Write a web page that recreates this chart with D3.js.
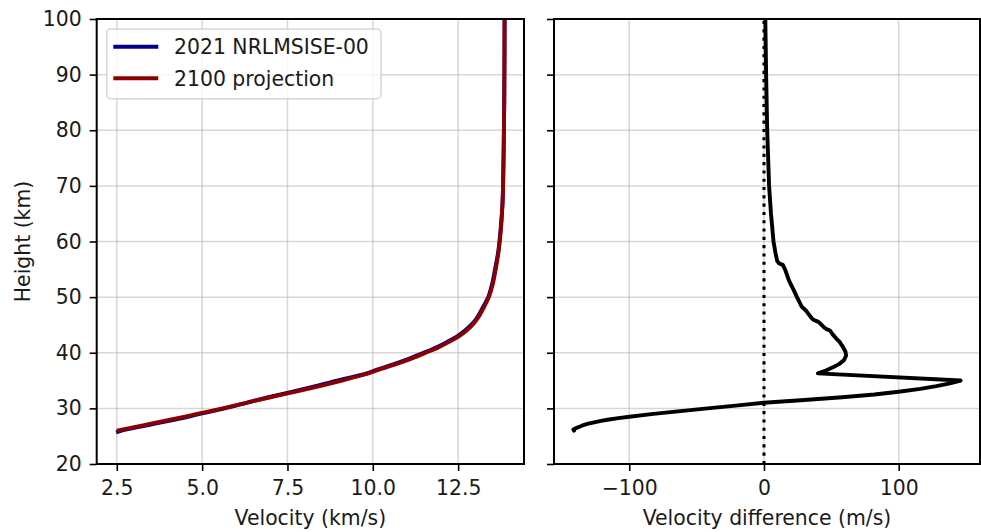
<!DOCTYPE html>
<html>
<head>
<meta charset="utf-8">
<script src="https://cdn.jsdelivr.net/npm/d3@7"></script>
<style>
  body { margin: 0; background: #fff; }
  svg { font-family: "DejaVu Sans", sans-serif; }
</style>
</head>
<body>
<div id="app"></div>
<script>
// data
// left panel: velocity (km/s) against height (km)
var h2021 = [25.7, 26, 27, 28, 29, 30, 31, 32, 33, 34, 35, 36, 37, 38, 39, 40, 41, 42, 43, 44, 45, 46, 48, 50, 52, 55, 58, 62, 67, 75, 85, 100];
var v2021 = [2.48, 2.64, 3.43, 4.22, 4.94, 5.66, 6.30, 6.94, 7.65, 8.32, 8.95, 9.66, 10.15, 10.64, 11.09, 11.49, 11.87, 12.19, 12.48, 12.70, 12.88, 13.02, 13.21, 13.38, 13.48, 13.58, 13.67, 13.74, 13.80, 13.83, 13.85, 13.86];
var h2100 = [26, 27, 28, 29, 30, 31, 32, 33, 34, 35, 36, 37, 38, 39, 40, 41, 42, 43, 44, 45, 46, 48, 50, 52, 55, 58, 62, 67, 75, 85, 100];
var v2100 = [2.50, 3.30, 4.10, 4.85, 5.60, 6.30, 7.00, 7.75, 8.45, 9.10, 9.70, 10.20, 10.70, 11.15, 11.55, 11.93, 12.25, 12.53, 12.75, 12.92, 13.05, 13.24, 13.40, 13.50, 13.60, 13.68, 13.75, 13.80, 13.83, 13.85, 13.86];

// right panel: velocity difference (m/s) against height (km)
var hDiff = [26.0, 26.2, 26.5, 26.75, 27.0, 27.25, 27.5, 27.75, 28.0, 28.25, 28.5, 29.0, 29.5, 30.0, 30.5, 31.0,
  31.5, 32.0, 32.5, 33.0, 33.5, 34.0, 34.5, 35.0,
  36.3, 36.8, 37.5, 38.0, 38.7, 39.5, 40.2, 41.1, 42.0, 42.6, 43.3, 44.0, 44.3, 44.6, 45.2, 45.6, 45.9, 46.2, 47.0, 47.5,
  48.3, 50.0, 51.3, 53.0, 54.9, 55.8, 56.1, 56.5, 58, 60, 65, 70, 80, 90, 100];
var dv = [-141, -141.5, -139, -136.5, -134, -130.5, -126, -121, -115, -108, -100, -82, -62, -42, -21, 0,
  30, 58, 82, 100, 116, 128, 138, 146,
  40, 46, 52, 56, 59.5, 61, 60.5, 58.5, 56, 53.5, 51, 49, 46, 44.5, 42, 40, 37, 35.5, 33, 31.5,
  28, 24.5, 22, 18.5, 15.8, 14, 11, 9.8, 8.5, 7.1, 5.2, 3.8, 2.4, 1.6, 1.0];

var yTicks = [20, 30, 40, 50, 60, 70, 80, 90, 100];
var velTicks = [2.5, 5.0, 7.5, 10.0, 12.5];
var diffTicks = [-100, 0, 100];
var seriesNames = ["2021 NRLMSISE-00", "2100 projection"];
var seriesColors = ["#00008b", "#8b0000"];

var W = 981, H = 532;
var fontSize = 20.4;
var plotTop = 19, plotBottom = 464;

var svg = d3.select("#app").append("svg")
  .attr("width", W).attr("height", H);

function padded(ext) {
  var m = (ext[1] - ext[0]) * 0.05;
  return [ext[0] - m, ext[1] + m];
}

var y = d3.scaleLinear().domain([20, 100]).range([plotBottom, plotTop]);

function makePanel(id, x0, x1, x, xTicks, fmt) {
  var g = svg.append("g").attr("class", id);

  g.append("clipPath").attr("id", "clip-" + id)
    .append("rect").attr("x", x0).attr("y", plotTop).attr("width", x1 - x0).attr("height", plotBottom - plotTop);

  // grid
  g.selectAll(".vgrid").data(xTicks).join("line")
    .attr("x1", d => x(d)).attr("x2", d => x(d))
    .attr("y1", plotTop).attr("y2", plotBottom)
    .attr("stroke", "#b0b0b0").attr("stroke-opacity", 0.5).attr("stroke-width", 1.5);
  g.selectAll(".hgrid").data(yTicks).join("line")
    .attr("x1", x0).attr("x2", x1)
    .attr("y1", d => y(d)).attr("y2", d => y(d))
    .attr("stroke", "#b0b0b0").attr("stroke-opacity", 0.5).attr("stroke-width", 1.5);

  var plot = g.append("g").attr("clip-path", "url(#clip-" + id + ")");

  // x axis
  var ax = g.append("g")
    .attr("transform", "translate(0," + plotBottom + ")")
    .call(d3.axisBottom(x).tickValues(xTicks).tickFormat(fmt).tickSize(7).tickPadding(7).tickSizeOuter(0));
  ax.select(".domain").remove();
  ax.selectAll(".tick line").attr("stroke", "#000").attr("stroke-width", 1.6);
  ax.selectAll(".tick text").attr("font-size", fontSize).attr("fill", "#1a1a1a")
    .attr("font-family", "DejaVu Sans").attr("dy", "0.71em").attr("y", 17);

  // y axis
  var ay = g.append("g")
    .attr("transform", "translate(" + x0 + ",0)")
    .call(d3.axisLeft(y).tickValues(yTicks).tickSize(7).tickPadding(8).tickSizeOuter(0));
  ay.select(".domain").remove();
  ay.selectAll(".tick line").attr("stroke", "#000").attr("stroke-width", 1.6);
  ay.selectAll(".tick text").attr("font-size", fontSize).attr("fill", "#1a1a1a")
    .attr("font-family", "DejaVu Sans");

  return { g: g, plot: plot, ay: ay, x0: x0, x1: x1 };
}

// left panel
var xVel = d3.scaleLinear()
  .domain(padded(d3.extent(v2021.concat(v2100))))
  .range([96.7, 524]);
var left = makePanel("left", 96.7, 524, xVel, velTicks, d3.format(".1f"));

var profile = d3.line().x(d => xVel(d[0])).y(d => y(d[1])).curve(d3.curveMonotoneY);
var s2021 = v2021.map((v, i) => [v, h2021[i]]);
var s2100 = v2100.map((v, i) => [v, h2100[i]]);
[s2021, s2100].forEach(function(s, i) {
  left.plot.append("path")
    .datum(s)
    .attr("d", profile)
    .attr("fill", "none")
    .attr("stroke", seriesColors[i])
    .attr("stroke-width", 3.9)
    .attr("stroke-linejoin", "round");
});

// right panel
var xDiff = d3.scaleLinear()
  .domain(padded(d3.extent(dv)))
  .range([554, 980]);
var right = makePanel("right", 554, 980, xDiff, diffTicks, d3.format("d"));
right.ay.selectAll(".tick text").remove();

right.plot.append("line")
  .attr("x1", xDiff(0)).attr("x2", xDiff(0))
  .attr("y1", y(20)).attr("y2", y(100))
  .attr("stroke", "#000").attr("stroke-width", 3.1)
  .attr("stroke-dasharray", "3.1,5.2");

right.plot.append("path")
  .datum(dv.map((d, i) => [d, hDiff[i]]))
  .attr("d", d3.line().x(d => xDiff(d[0])).y(d => y(d[1])))
  .attr("fill", "none")
  .attr("stroke", "#000")
  .attr("stroke-width", 3.9)
  .attr("stroke-linejoin", "round")
  .attr("stroke-linecap", "round");

// frames
[left, right].forEach(function(p) {
  p.g.append("rect")
    .attr("x", p.x0).attr("y", plotTop)
    .attr("width", p.x1 - p.x0).attr("height", plotBottom - plotTop)
    .attr("fill", "none").attr("stroke", "#000").attr("stroke-width", 2);
});

// legend
var legend = svg.append("g");
legend.append("rect")
  .attr("x", 106.7).attr("y", 29).attr("width", 274.3).attr("height", 69.7)
  .attr("rx", 4).attr("fill", "#fff").attr("fill-opacity", 0.8)
  .attr("stroke", "#cccccc").attr("stroke-opacity", 0.8).attr("stroke-width", 1.5);
seriesNames.forEach(function(name, i) {
  var ly = 46.7 + i * 31.6;
  legend.append("line")
    .attr("x1", 113.3).attr("x2", 158.3).attr("y1", ly).attr("y2", ly)
    .attr("stroke", seriesColors[i]).attr("stroke-width", 3.9);
  legend.append("text")
    .attr("x", 174).attr("y", ly).attr("dy", "0.36em")
    .attr("font-size", fontSize).attr("fill", "#1a1a1a")
    .text(name);
});

// axis labels
svg.append("text")
  .attr("x", (96.7 + 524) / 2).attr("y", 525)
  .attr("text-anchor", "middle").attr("font-size", fontSize).attr("fill", "#1a1a1a")
  .text("Velocity (km/s)");
svg.append("text")
  .attr("x", (554 + 980) / 2).attr("y", 525)
  .attr("text-anchor", "middle").attr("font-size", fontSize).attr("fill", "#1a1a1a")
  .text("Velocity difference (m/s)");
svg.append("text")
  .attr("transform", "translate(30," + (plotTop + plotBottom) / 2 + ") rotate(-90)")
  .attr("text-anchor", "middle").attr("font-size", fontSize).attr("fill", "#1a1a1a")
  .text("Height (km)");
</script>
</body>
</html>
